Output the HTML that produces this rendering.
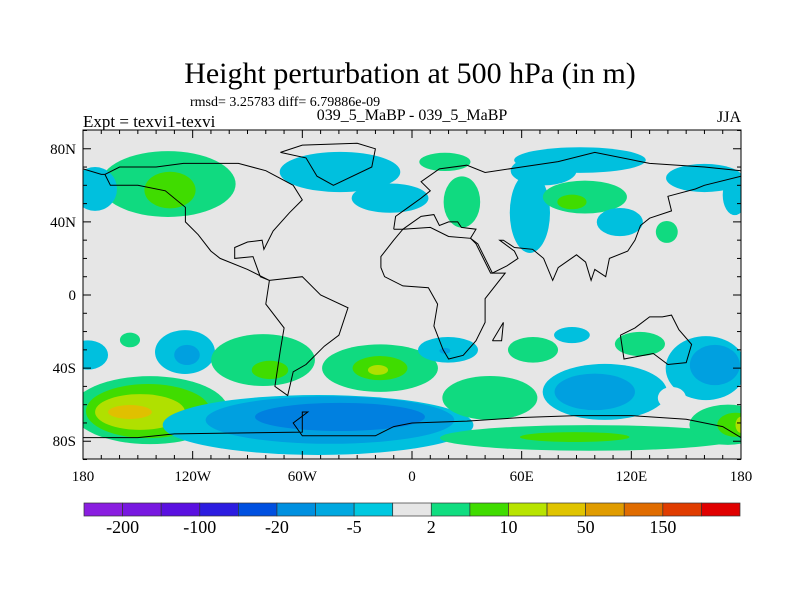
<!DOCTYPE html>
<html><head><meta charset="utf-8"><style>
body{margin:0;background:#fff;}
svg text{font-family:"Liberation Serif",serif;fill:#000;}
</style></head><body>
<svg id="chart" width="800" height="600" viewBox="0 0 800 600" xmlns="http://www.w3.org/2000/svg">
<defs><clipPath id="plotclip"><rect x="83" y="130" width="658" height="329"/></clipPath></defs>
<text x="410" y="83" font-size="30" text-anchor="middle">Height perturbation at 500 hPa (in m)</text>
<text x="190" y="106" font-size="14">rmsd= 3.25783 diff= 6.79886e-09</text>
<text x="83" y="127" font-size="17">Expt = texvi1-texvi</text>
<text x="412" y="120" font-size="16" text-anchor="middle">039_5_MaBP - 039_5_MaBP</text>
<text x="741" y="122" font-size="16" text-anchor="end">JJA</text>
<rect x="83" y="130" width="658" height="329" fill="#e6e6e6"/>
<g id="fills" clip-path="url(#plotclip)"></g>
<g id="coast" clip-path="url(#plotclip)"></g>
<rect x="83" y="130" width="658" height="329" fill="none" stroke="#000" stroke-width="1"/>
<g id="ticks"></g>
<g id="labels"></g>
<g id="cbar"></g>
</svg>
<script>
const levelColors=["#00c0de","#00a0e0","#0080e0","#10da80","#40dc00","#b0e000","#e0c000","#e6e6e6"];
const blobLon=[-133.5,-132.4,-173.4,-39.4,-12,18,27.3,64.5,72,91.9,94.6,87.5,113.7,139.4,160,176.6,
 -177.3,-154.3,-124.2,-123.1,-81.5,-77.7,-17.5,-17.5,-18.6,-143.4,-144.4,-148.8,-154.3,
 -51.4,-44.9,-39.4,19.7,18,87.5,66.2,124.7,105.5,100,160.8,165.7,142.2,97.3,89,42.6,172.8,177,180];
const blobLat=[60.7,57.4,58,67.3,53,72.8,50.9,45,68,73.8,53.6,50.9,39.9,34.5,64,54.7,
 -32.8,-24.6,-31.2,-32.8,-35.6,-41,-40,-40,-41,-63,-63.5,-64,-64,
 -71.1,-68.4,-66.7,-30,-30.5,-21.9,-30,-26.8,-53,-53,-40,-38.3,-56.3,-78.2,-77.7,-56.3,-71,-71,-71];
const blobRLon=[37,14,12,33,21,14,10,11,18,36,23,8,12.6,6,21,6.6,
 11,5.5,16.4,7,28.4,10,31.7,15,5.5,42.7,34,24.6,12,
 85,68,46.5,16.4,3,9.8,13.7,13.7,34,22,22,13.7,7.7,82,30,26,21,10,3];
const blobRLat=[18,10,12,11,8,5,14,22,8,7,9,4,7.7,6,7.7,11,
 8,4,12,5.5,14.2,5,13,6.6,2.7,18.6,14.8,9.8,3.8,
 16.4,13,7.7,7,1.6,4.4,7,6.6,15.3,10,17.5,11,6,7,2.7,12,11,6.6,4.4];
const blobLevel=[3,4,0,0,0,3,3,0,0,0,3,4,0,3,0,0,
 0,3,0,1,3,4,3,4,5,3,4,5,6,
 0,1,2,0,1,0,3,3,0,1,0,1,7,3,4,3,3,4,5];
const coastlines=[
 [[-168,66],[-160,70],[-140,70],[-125,72],[-95,72],[-80,68],[-65,60],[-60,52],[-67,45],[-76,35],[-81,25],[-82,30],[-90,29],[-97,26],[-97,20],[-87,21],[-83,10],[-78,8],[-90,14],[-105,20],[-110,24],[-117,33],[-124,40],[-124,48],[-135,57],[-150,60],[-165,60],[-168,66]],
 [[-72,78],[-60,82],[-30,83],[-20,80],[-22,70],[-43,60],[-52,65],[-58,75],[-72,78]],
 [[-78,8],[-60,10],[-50,0],[-35,-7],[-40,-22],[-48,-28],[-58,-38],[-65,-42],[-68,-55],[-75,-50],[-72,-30],[-70,-18],[-80,-5],[-78,8]],
 [[-10,36],[-9,43],[-2,48],[5,53],[10,57],[5,62],[15,69],[30,71],[40,67],[60,70],[80,73],[100,78],[130,72],[160,70],[180,68],[180,65],[160,60],[155,58],[140,54],[142,46],[130,42],[125,38],[122,30],[118,24],[108,20],[106,10],[100,14],[98,8],[95,18],[90,22],[80,15],[77,8],[72,20],[66,25],[56,26],[50,30],[48,30],[56,24],[58,20],[52,16],[44,12],[36,28],[32,31],[35,36],[27,37],[25,40],[20,40],[15,38],[12,44],[5,43],[-5,36],[-10,36]],
 [[-17,15],[-17,21],[-10,30],[-5,36],[10,37],[20,32],[32,31],[35,28],[43,12],[51,12],[40,-2],[40,-15],[35,-25],[28,-33],[20,-35],[17,-30],[12,-17],[14,-5],[9,4],[-5,5],[-15,10],[-17,15]],
 [[114,-22],[122,-18],[130,-12],[137,-12],[142,-11],[146,-19],[153,-27],[150,-37],[140,-38],[132,-32],[116,-35],[114,-22]],
 [[44,-25],[50,-15],[49,-25],[44,-25]],
 [[-180,-78],[-150,-78],[-130,-76],[-60,-75],[-60,-64],[-57,-64],[-65,-70],[-60,-77],[-20,-77],[-10,-72],[0,-70],[30,-69],[60,-67],[90,-66],[120,-66],[150,-68],[170,-72],[180,-78]],
 [[-180,69],[-170,66],[-168,66]]
];
const lonTicks=[-180,-120,-60,0,60,120,180];
const lonTickLabels=["180","120W","60W","0","60E","120E","180"];
const latTicks=[80,40,0,-40,-80];
const latTickLabels=["80N","40N","0","40S","80S"];
const cbarColors=["#8a1ee0","#7818e0","#5a10e0","#2c1ce0","#0050e0","#0090e0","#00a8e0","#00c8e0","#e6e6e6","#10dd80","#40dc00","#b8e400","#e0c400","#e09c00","#e06c00","#e03c00","#e00000"];
const cbarLabels=["-200","-100","-20","-5","2","10","50","150"];
const NS="http://www.w3.org/2000/svg";
const X=lon=>83+(lon+180)*658/360;
const Y=lat=>295-lat*1.828;
const SX=d=>d*658/360, SY=d=>d*1.828;
function mk(t,a,p){const e=document.createElementNS(NS,t);for(const k in a)e.setAttribute(k,a[k]);p.appendChild(e);return e;}
const fills=document.getElementById('fills');
for(let i=0;i<blobLon.length;i++){
 const e=mk('ellipse',{cx:X(blobLon[i]),cy:Y(blobLat[i]),rx:SX(blobRLon[i]),ry:SY(blobRLat[i]),fill:levelColors[blobLevel[i]]},fills);
 
 
}
const coast=document.getElementById('coast');
coastlines.forEach(poly=>{
 const pts=poly.map(p=>X(p[0]).toFixed(1)+','+Y(p[1]).toFixed(1)).join(' ');
 const e=mk('polyline',{points:pts,fill:'none',stroke:'#000','stroke-width':1},coast);
 
 
});
const ticks=document.getElementById('ticks');
for(let lon=-180;lon<=180;lon+=10){
 const L=lon%60===0?8:4;
 mk('line',{x1:X(lon),x2:X(lon),y1:459,y2:459-L,stroke:'#000'},ticks);
 mk('line',{x1:X(lon),x2:X(lon),y1:130,y2:130+L,stroke:'#000'},ticks);
}
for(let lat=-90;lat<=90;lat+=10){
 const L=(lat%40===0&&Math.abs(lat)<=80)?8:4;
 mk('line',{x1:83,x2:83+L,y1:Y(lat),y2:Y(lat),stroke:'#000'},ticks);
 mk('line',{x1:741,x2:741-L,y1:Y(lat),y2:Y(lat),stroke:'#000'},ticks);
}
const labels=document.getElementById('labels');
lonTicks.forEach((v,i)=>{const t=mk('text',{x:X(v),y:481,'font-size':15,'text-anchor':'middle'},labels);t.textContent=lonTickLabels[i];
 });
latTicks.forEach((v,i)=>{const t=mk('text',{x:76,y:Y(v)+5,'font-size':15,'text-anchor':'end'},labels);t.textContent=latTickLabels[i];
 });
const cbar=document.getElementById('cbar');
const cw=656/cbarColors.length;
cbarColors.forEach((c,i)=>{const r=mk('rect',{x:84+i*cw,y:503,width:cw,height:13,fill:c,stroke:'#333','stroke-width':0.7},cbar);
 });
cbarLabels.forEach((s,i)=>{const t=mk('text',{x:84+cw*(1+2*i),y:533,'font-size':18,'text-anchor':'middle'},cbar);t.textContent=s;
 });
</script>
</body></html>
